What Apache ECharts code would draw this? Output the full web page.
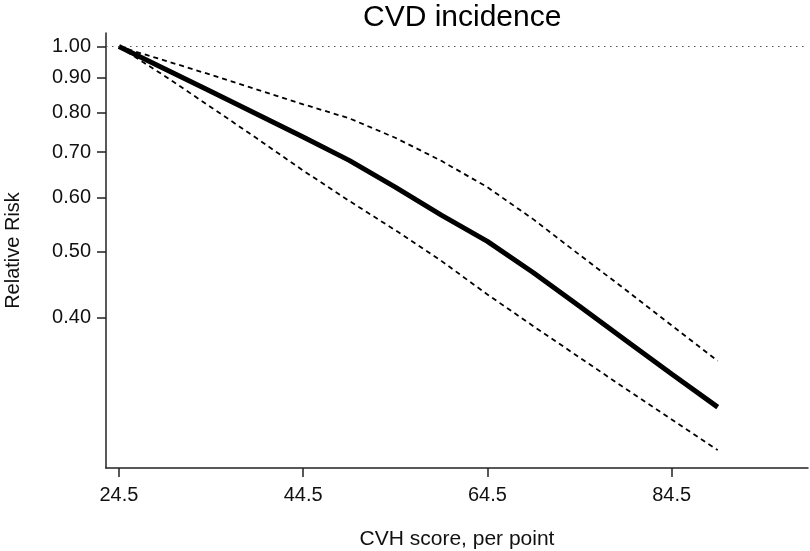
<!DOCTYPE html>
<html>
<head>
<meta charset="utf-8">
<script src="https://cdn.jsdelivr.net/npm/echarts@6/dist/echarts.min.js"></script>
<style>
html,body{margin:0;padding:0;background:#fff;}
#chart{width:810px;height:551px;}
</style>
</head>
<body>
<div id="chart"></div>
<script>
// CVH score (x) values
const cvhScore = [24.5, 29.5, 34.5, 39.5, 44.5, 49.5, 54.5, 59.5, 64.5, 69.5, 74.5, 79.5, 84.5, 89.5];
// Relative risk estimate
const rrEstimate = [1.00, 0.927, 0.859, 0.796, 0.737, 0.681, 0.622, 0.566, 0.518, 0.466, 0.416, 0.371, 0.331, 0.296];
// Upper 95% CI
const rrUpper = [1.00, 0.954, 0.909, 0.865, 0.823, 0.785, 0.735, 0.680, 0.622, 0.558, 0.495, 0.440, 0.390, 0.346];
// Lower 95% CI
const rrLower = [1.00, 0.905, 0.815, 0.733, 0.658, 0.594, 0.538, 0.485, 0.433, 0.389, 0.350, 0.315, 0.284, 0.256];
// Tick labels
const xTicks = [24.5, 44.5, 64.5, 84.5];
const yTicks = [0.4, 0.5, 0.6, 0.7, 0.8, 0.9, 1.0];

const pair = (ys) => cvhScore.map((x, i) => [x, ys[i]]);

const chart = echarts.init(document.getElementById('chart'), null, {renderer: 'canvas'});
const FONT = 'Liberation Sans, Arial, sans-serif';
const axisColor = '#222';

chart.setOption({
  animation: false,
  backgroundColor: '#fff',
  title: {
    text: 'CVD incidence',
    left: 358,
    top: -2,
    textStyle: {fontFamily: FONT, fontSize: 30, fontWeight: 'normal', color: '#000'}
  },
  grid: {left: 106, right: 2, top: 33, bottom: 83, outerBoundsMode: 'none', containLabel: false},
  xAxis: {
    type: 'value',
    min: 23.1,
    max: 99.3,
    name: 'CVH score, per point',
    nameLocation: 'middle',
    nameGap: 61,
    nameTextStyle: {fontFamily: FONT, fontSize: 21, color: '#111'},
    splitLine: {show: false},
    axisLine: {show: true, lineStyle: {color: axisColor, width: 1.5}},
    axisTick: {show: true, length: 9, customValues: xTicks, lineStyle: {color: axisColor, width: 1.5}},
    axisLabel: {customValues: xTicks, margin: 17, fontFamily: FONT, fontSize: 20, color: '#111',
      formatter: v => v.toFixed(1)}
  },
  yAxis: {
    type: 'log',
    logBase: 10,
    min: 0.241,
    max: 1.047,
    name: 'Relative Risk',
    nameLocation: 'middle',
    nameGap: 83,
    nameTextStyle: {fontFamily: FONT, fontSize: 20, color: '#111'},
    splitLine: {show: false},
    axisLine: {show: true, lineStyle: {color: axisColor, width: 1.5}},
    axisTick: {show: true, length: 9, customValues: yTicks, lineStyle: {color: axisColor, width: 1.5}},
    axisLabel: {customValues: yTicks, margin: 15, fontFamily: FONT, fontSize: 20, color: '#111',
      formatter: v => Number(v).toFixed(2)}
  },
  series: [
    {
      name: 'Upper', type: 'line', data: pair(rrUpper), showSymbol: false, symbol: 'none',
      lineStyle: {color: '#000', width: 1.8, type: [5, 4]},
      markLine: {
        silent: true, symbol: 'none', label: {show: false},
        lineStyle: {color: '#555', width: 1, type: [1.5, 4.5]},
        data: [{yAxis: 1}]
      }
    },
    {
      name: 'Lower', type: 'line', data: pair(rrLower), showSymbol: false, symbol: 'none',
      lineStyle: {color: '#000', width: 1.8, type: [5, 4]}
    },
    {
      name: 'RR', type: 'line', data: pair(rrEstimate), showSymbol: false, symbol: 'none',
      lineStyle: {color: '#000', width: 5}
    }
  ]
});
</script>
</body>
</html>
